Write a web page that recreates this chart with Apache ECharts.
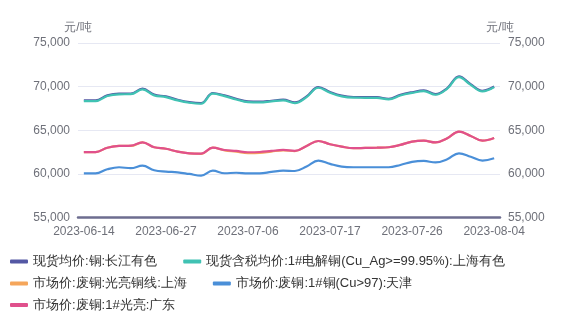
<!DOCTYPE html>
<html>
<head>
<meta charset="utf-8">
<script src="https://cdn.jsdelivr.net/npm/echarts@6/dist/echarts.min.js"></script>
<style>html,body{margin:0;padding:0;background:#fff}#c{width:562px;height:315px}</style>
</head>
<body>
<div id="c"></div>
<script>
var dates = ["2023-06-14","2023-06-15","2023-06-16","2023-06-19","2023-06-20","2023-06-21","2023-06-26","2023-06-27","2023-06-28","2023-06-29","2023-06-30","2023-07-03","2023-07-04","2023-07-05","2023-07-06","2023-07-07","2023-07-10","2023-07-11","2023-07-12","2023-07-13","2023-07-14","2023-07-17","2023-07-18","2023-07-19","2023-07-20","2023-07-21","2023-07-24","2023-07-25","2023-07-26","2023-07-27","2023-07-28","2023-07-31","2023-08-01","2023-08-02","2023-08-03","2023-08-04"];
var changjiang = [68420,68420,69000,69200,69200,69760,69080,68880,68500,68230,68120,69270,68990,68610,68300,68270,68380,68500,68190,68880,69950,69380,68960,68810,68800,68790,68610,69070,69360,69560,69150,69840,71170,70280,69530,70020];
var shanghaiYouse = [68340,68340,68920,69120,69130,69680,69000,68800,68420,68150,68040,69190,68910,68530,68220,68190,68300,68420,68110,68800,69870,69300,68880,68730,68720,68710,68530,68990,69280,69480,69070,69760,71090,70200,69450,69940];
var shanghaiWire = [62500,62500,63000,63200,63200,63600,63050,62880,62550,62350,62300,63000,62700,62560,62380,62400,62560,62700,62600,63200,63770,63400,63120,62940,62970,63000,63050,63320,63690,63800,63600,64080,64840,64350,63810,64120];
var tianjin = [60060,60060,60530,60760,60650,60940,60410,60250,60180,59990,59800,60370,60070,60130,60050,60050,60220,60370,60330,60850,61520,61140,60830,60760,60760,60760,60760,61020,61370,61480,61310,61680,62360,61970,61520,61790];
var guangdong = [62500,62500,63000,63200,63240,63620,63050,62880,62550,62360,62320,63000,62740,62630,62480,62510,62630,62740,62630,63200,63770,63400,63120,62940,62970,63000,63050,63320,63690,63800,63600,64080,64840,64350,63810,64120];
var seriesNames = ["现货均价:铜:长江有色","现货含税均价:1#电解铜(Cu_Ag>=99.95%):上海有色","市场价:废铜:光亮铜线:上海","市场价:废铜:1#铜(Cu>97):天津","市场价:废铜:1#光亮:广东"];
var colors = ["#5458a4","#40c2b3","#f5a65b","#4a8fd8","#e0508c"];
var yTicks = [55000,60000,65000,70000,75000];

var chart = echarts.init(document.getElementById('c'));
var fmt = function(v){ return String(v).replace(/\B(?=(\d{3})+(?!\d))/g, ','); };
var yAxisBase = function(pos){
  return {
    type: 'value', position: pos, min: yTicks[0], max: yTicks[yTicks.length-1], interval: 5000,
    name: '元/吨', nameLocation: 'end', nameGap: 9,
    nameTextStyle: {color: '#6e7079', fontSize: 12, align: 'center'},
    axisLine: {show: false}, axisTick: {show: false},
    axisLabel: {color: '#6e7079', fontSize: 12, margin: 8, formatter: fmt},
    splitLine: {show: pos === 'left', lineStyle: {color: '#e6e8f3', width: 1}}
  };
};
var legendRow = function(top, names){
  return {
    left: 5, top: top, itemWidth: 18, itemHeight: 4, itemGap: 26,
    icon: 'roundRect',
    textStyle: {color: '#333', fontSize: 13},
    data: names
  };
};
var data = [changjiang, shanghaiYouse, shanghaiWire, tianjin, guangdong];
chart.setOption({
  animation: false,
  color: colors,
  textStyle: {fontFamily: 'sans-serif'},
  grid: {left: 78, right: 62, top: 43, bottom: 97.5},
  legend: [
    legendRow(250, [seriesNames[0], seriesNames[1]]),
    legendRow(272, [seriesNames[2], seriesNames[3]]),
    legendRow(293.5, [seriesNames[4]])
  ],
  xAxis: {
    type: 'category', data: dates, boundaryGap: true,
    axisLine: {lineStyle: {color: '#6d6d90', width: 2.5}},
    axisTick: {show: false},
    axisLabel: {color: '#6e7079', fontSize: 12, interval: 6, margin: 8}
  },
  yAxis: [yAxisBase('left'), yAxisBase('right')],
  series: data.map(function(d, i){
    return {
      name: seriesNames[i], type: 'line', data: d, smooth: 0.4,
      showSymbol: false, symbol: 'none',
      lineStyle: {width: 2.2}
    };
  })
});
</script>
</body>
</html>
